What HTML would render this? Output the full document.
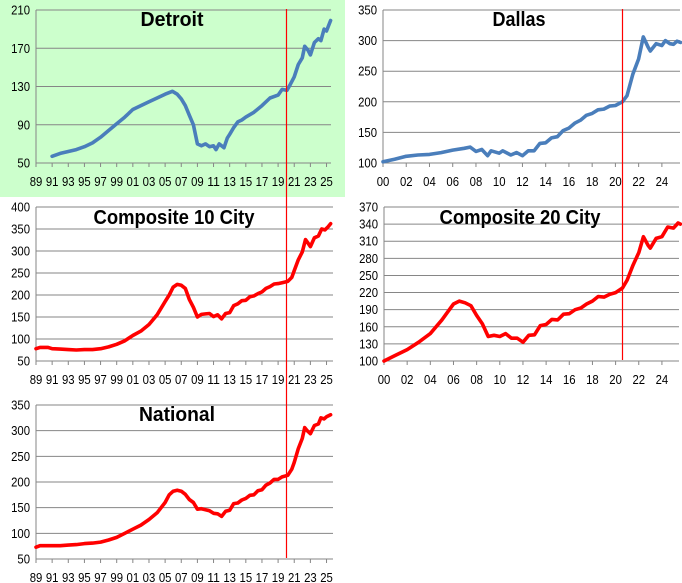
<!DOCTYPE html>
<html><head><meta charset="utf-8"><style>
html,body{margin:0;padding:0;background:#fff;}
svg{display:block;font-family:"Liberation Sans",sans-serif;}
</style></head><body>
<svg id="s" width="682" height="583" xmlns="http://www.w3.org/2000/svg">
<rect x="0" y="0" width="345" height="197" fill="#ccffcc"/>
</svg>
<script>
const S=document.getElementById('s');const NS='http://www.w3.org/2000/svg';
function el(t,a,txt){const e=document.createElementNS(NS,t);for(const k in a)e.setAttribute(k,a[k]);if(txt!==undefined)e.textContent=txt;S.appendChild(e);return e;}
function panel(o){
 const {ax,right,top,bot,vmin,vmax,step,y0,ppy,yrs,lblStep,lblStart,color,pts,title,tx,ty,tl}=o;
 const Y=v=>bot-(v-vmin)*(bot-top)/(vmax-vmin);
 const X=yr=>ax+(yr-y0)*ppy;
 for(let v=vmin;v<=vmax+0.01;v+=step){const y=Y(v);
  el('line',{x1:ax,x2:right,y1:y,y2:y,stroke:'#868686','stroke-width':1});
  const s=String(v);
  el('text',{x:ax-6,y:y+4.5,'text-anchor':'end','font-size':12.5,fill:'#000',textLength:s.length*6.3,lengthAdjust:'spacingAndGlyphs'},s);}
 el('line',{x1:ax,x2:ax,y1:top,y2:bot,stroke:'#868686','stroke-width':1});
 for(let i=0;i<=yrs;i++){const yr=lblStart+i*lblStep;const x=X(yr);
  el('line',{x1:x,x2:x,y1:bot,y2:bot+4,stroke:'#868686','stroke-width':1});
  el('text',{x:x,y:bot+23,'text-anchor':'middle','font-size':12.5,fill:'#000',textLength:12.6,lengthAdjust:'spacingAndGlyphs'},String(yr%100).padStart(2,'0'));}
 let d='';for(let i=0;i<pts.length;i+=2){d+=(i?'L':'M')+X(pts[i]).toFixed(1)+' '+Y(pts[i+1]).toFixed(1);}
 el('path',{d:d,fill:'none',stroke:color,'stroke-width':3.6,'stroke-linejoin':'round','stroke-linecap':'round'});
 const ta={x:tx,y:ty,'text-anchor':'middle','font-size':20,'font-weight':'bold',fill:'#000'};
 if(tl){ta.textLength=tl;ta.lengthAdjust='spacingAndGlyphs';}
 el('text',ta,title);
}
const blue='#4a7ebb',red='#ff0000';
panel({ax:36,right:331,top:10,bot:163,vmin:50,vmax:210,step:40,y0:1989,ppy:8.07,yrs:18,lblStep:2,lblStart:1989,color:blue,title:'Detroit',tx:172,ty:26,tl:63,
pts:[1991,57,1992,60,1993,62,1994,64,1995,67,1996,71,1997,77,1998,84,1999,91,2000,98,2001,106,2002,110,2003,114,2004,118,2005,122,2005.9,125,2006.5,122,2007,117,2007.5,110,2008,100,2008.5,90,2009,70,2009.5,68,2010,70,2010.5,67,2011,68,2011.3,64,2011.7,70,2012,68,2012.3,66,2012.7,76,2013,80,2013.5,87,2014,93,2014.5,95,2015,98,2016,103,2017,110,2018,118,2019,121,2019.5,127,2020.1,126,2020.5,132,2021,140,2021.5,153,2022,160,2022.3,172,2022.7,168,2023,163,2023.5,176,2024,180,2024.3,178,2024.7,190,2025,188,2025.5,199]});
panel({ax:383,right:680,top:10,bot:163,vmin:100,vmax:350,step:50,y0:2000,ppy:11.62,yrs:12,lblStep:2,lblStart:2000,color:blue,title:'Dallas',tx:519,ty:26,tl:53,
pts:[2000,102,2001,106,2002,111,2003,113,2004,114,2005,117,2006,121,2007,124,2007.5,126,2008,119,2008.5,122,2009,112,2009.3,120,2010,116,2010.3,120,2011,113,2011.5,117,2012,112,2012.5,120,2013,120,2013.5,132,2014,133,2014.5,141,2015,143,2015.5,153,2016,157,2016.5,165,2017,170,2017.5,178,2018,181,2018.5,187,2019,188,2019.5,193,2020,194,2020.6,200,2021,210,2021.5,245,2022,270,2022.4,306,2022.8,290,2023,283,2023.5,295,2024,292,2024.3,300,2024.7,295,2025,294,2025.3,299,2025.6,297]});
panel({ax:36,right:333,top:207,bot:361,vmin:50,vmax:400,step:50,y0:1989,ppy:8.07,yrs:18,lblStep:2,lblStart:1989,color:red,title:'Composite 10 City',tx:174,ty:224,tl:161,
pts:[1989,78,1989.5,81,1990.5,81,1991,78,1992,77,1993,76,1994,75,1995,76,1996,76,1997,78,1998,82,1999,88,2000,96,2001,108,2002,118,2003,133,2004,155,2005,185,2005.5,200,2006,218,2006.5,224,2007,222,2007.5,215,2008,190,2008.5,172,2009,150,2009.5,156,2010,157,2010.5,158,2011,151,2011.5,155,2012,146,2012.5,158,2013,160,2013.5,176,2014,180,2014.5,187,2015,188,2015.5,196,2016,198,2016.5,203,2017,207,2017.5,215,2018,219,2018.5,225,2019,226,2019.5,228,2020.2,231,2020.7,240,2021,255,2021.5,280,2022,298,2022.4,326,2022.7,318,2023,310,2023.5,330,2024,334,2024.4,350,2024.8,348,2025.2,355,2025.5,362]});
panel({ax:384,right:679,top:207,bot:361,vmin:100,vmax:370,step:30,y0:2000,ppy:11.58,yrs:12,lblStep:2,lblStart:2000,color:red,title:'Composite 20 City',tx:520,ty:224,tl:161,
pts:[2000,100,2001,110,2002,120,2003,133,2004,148,2005,172,2005.5,186,2006,200,2006.5,205,2007,202,2007.5,197,2008,180,2008.5,165,2009,143,2009.5,145,2010,143,2010.5,148,2011,140,2011.5,140,2012,133,2012.5,145,2013,146,2013.5,162,2014,164,2014.5,173,2015,172,2015.5,182,2016,183,2016.5,190,2017,193,2017.5,200,2018,205,2018.5,213,2019,212,2019.5,217,2020,220,2020.6,228,2021,242,2021.5,268,2022,290,2022.4,318,2022.8,303,2023,298,2023.5,315,2024,318,2024.5,335,2025,333,2025.4,342,2025.6,340]});
panel({ax:36,right:333,top:405,bot:559,vmin:50,vmax:350,step:50,y0:1989,ppy:8.07,yrs:18,lblStep:2,lblStart:1989,color:red,title:'National',tx:177,ty:421,tl:76,
pts:[1989,73,1989.5,76,1991,76,1992,76,1993,77,1994,78,1995,80,1996,81,1997,83,1998,87,1999,92,2000,100,2001,108,2002,116,2003,127,2004,140,2005,160,2005.5,175,2006,182,2006.5,184,2007,182,2007.5,176,2008,166,2008.5,160,2009,147,2009.5,148,2010,146,2010.5,144,2011,139,2011.5,138,2012,133,2012.5,143,2013,145,2013.5,158,2014,159,2014.5,165,2015,168,2015.5,174,2016,175,2016.5,183,2017,185,2017.5,194,2018,198,2018.5,205,2019,205,2019.5,210,2020.2,213,2020.7,225,2021,238,2021.5,265,2022,285,2022.3,306,2022.6,300,2023,294,2023.5,310,2024,313,2024.3,325,2024.7,323,2025,327,2025.5,331]});
el('line',{x1:286.5,x2:286.5,y1:9,y2:558,stroke:'#ff0000','stroke-width':1.2});
el('line',{x1:622.5,x2:622.5,y1:9,y2:360,stroke:'#ff0000','stroke-width':1.2});
</script>
</body></html>
